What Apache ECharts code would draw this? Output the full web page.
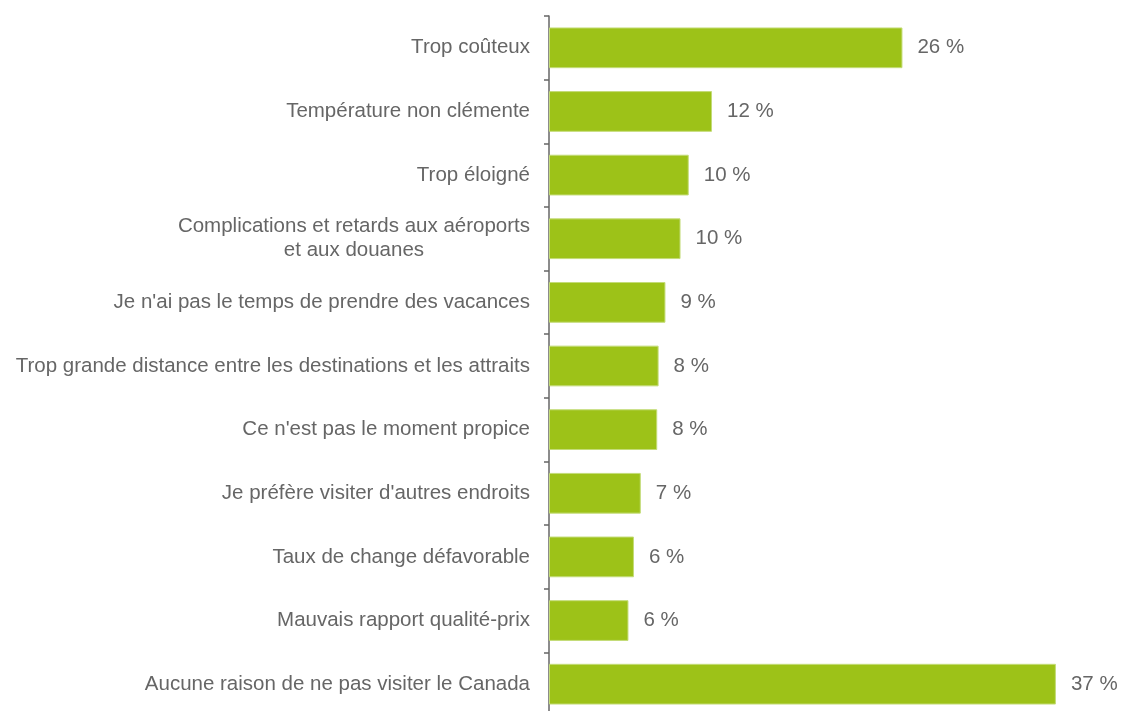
<!DOCTYPE html>
<html><head><meta charset="utf-8">
<script src="https://cdn.jsdelivr.net/npm/echarts@6/dist/echarts.min.js"></script>
<style>html,body{margin:0;padding:0;background:#fff;}#c{width:1122px;height:711px;}</style>
</head><body><div id="c"></div>
<script>
const categories = [
  "Trop coûteux",
  "Température non clémente",
  "Trop éloigné",
  "Complications et retards aux aéroports\net aux douanes",
  "Je n'ai pas le temps de prendre des vacances",
  "Trop grande distance entre les destinations et les attraits",
  "Ce n'est pas le moment propice",
  "Je préfère visiter d'autres endroits",
  "Taux de change défavorable",
  "Mauvais rapport qualité-prix",
  "Aucune raison de ne pas visiter le Canada"
];
const values = [25.8, 11.9, 10.2, 9.6, 8.5, 8.0, 7.9, 6.7, 6.2, 5.8, 37.0];
const valueLabels = ["26 %", "12 %", "10 %", "10 %", "9 %", "8 %", "8 %", "7 %", "6 %", "6 %", "37 %"];

const font = "'Liberation Sans', Arial, sans-serif";
const fs = 20.5;
const chart = echarts.init(document.getElementById('c'), null, {renderer: 'canvas'});
chart.setOption({
  animation: false,
  grid: {left: 549, top: 16, width: 548, height: 700, containLabel: false, outerBoundsMode: 'none'},
  xAxis: {type: 'value', min: 0, max: 40, show: false},
  yAxis: {
    type: 'category', data: categories, inverse: true,
    axisLine: {show: true, lineStyle: {color: '#666', width: 1.5}},
    axisTick: {show: true, length: 5, lineStyle: {color: '#666', width: 1.5}},
    axisLabel: {
      margin: 19, color: '#666666', fontSize: fs, fontFamily: font, lineHeight: 24,
      formatter: function (v) {
        if (v.indexOf('\n') >= 0) {
          return v.split('\n').map(s => '{c|' + s + '}').join('\n');
        }
        return v;
      },
      rich: {c: {align: 'center', color: '#666666', fontSize: fs, fontFamily: font, lineHeight: 24}}
    },
    splitLine: {show: false}
  },
  series: [{
    type: 'bar', data: values, barCategoryGap: '36%',
    itemStyle: {color: '#9DC218', borderColor: '#C4DC78', borderWidth: 1},
    label: {
      show: true, position: 'right', distance: 15, color: '#666666', fontSize: fs, fontFamily: font,
      formatter: p => valueLabels[p.dataIndex]
    }
  }]
});
</script></body></html>
